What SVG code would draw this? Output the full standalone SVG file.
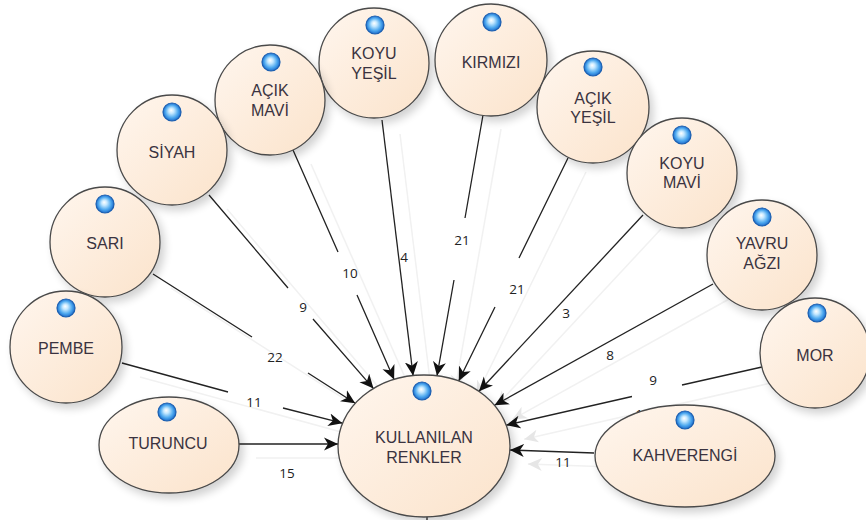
<svg xmlns="http://www.w3.org/2000/svg" width="866" height="520" viewBox="0 0 866 520">
<style>
.node{fill:url(#peach);stroke:#4a4a4a;stroke-width:1.3;filter:url(#sh)}
.dot{fill:url(#blue);stroke:#1b5fb0;stroke-width:1.2}
.lbl{font-family:"Liberation Sans",Arial,sans-serif;font-size:16px;fill:#3a3340;text-anchor:middle}
.num{font-family:"Open Sans","Liberation Sans",sans-serif;font-size:13.5px;fill:#222;text-anchor:middle}
.edge{fill:none;stroke:#222;stroke-width:1.3;marker-end:url(#arr)}
.edgesh{fill:none;stroke:#f1f1f1;stroke-width:1.5;marker-end:url(#arrsh)}
</style>
<defs>
<linearGradient id="peach" x1="0" y1="0" x2="1" y2="1">
<stop offset="0" stop-color="#fff6ee"/>
<stop offset="1" stop-color="#fbe3cb"/>
</linearGradient>
<radialGradient id="blue" cx="0.5" cy="0.5" r="0.5" fx="0.45" fy="0.4">
<stop offset="0" stop-color="#ffffff"/>
<stop offset="0.3" stop-color="#c4e8ff"/>
<stop offset="0.7" stop-color="#4ea9ef"/>
<stop offset="1" stop-color="#1d6ccc"/>
</radialGradient>
<filter id="sh" x="-20%" y="-20%" width="150%" height="150%">
<feGaussianBlur in="SourceAlpha" stdDeviation="4"/>
<feOffset dx="4" dy="5" result="b"/>
<feComponentTransfer><feFuncA type="linear" slope="0.18"/></feComponentTransfer>
<feMerge><feMergeNode/><feMergeNode in="SourceGraphic"/></feMerge>
</filter>
<marker id="arr" markerWidth="16" markerHeight="14" refX="14" refY="7" orient="auto" markerUnits="userSpaceOnUse">
<path d="M14,7 L0,0.5 L4,7 L0,13.5 Z" fill="#111"/>
</marker>
<marker id="arrsh" markerWidth="16" markerHeight="14" refX="14" refY="7" orient="auto" markerUnits="userSpaceOnUse">
<path d="M14,7 L0,0.5 L4,7 L0,13.5 Z" fill="#e6e6e6"/>
</marker>
</defs>
<rect width="866" height="520" fill="#fff"/>

<g id="connector-shadows" transform="translate(18,14)">
<path class="edgesh" d="M238,444 L338,444"/>
<path class="edgesh" d="M122,363 L342.5,423.2"/>
<path class="edgesh" d="M153,274 L355.2,403.3"/>
<path class="edgesh" d="M209,195 L373.5,388.6"/>
<path class="edgesh" d="M293,150 L394.1,379.5"/>
<path class="edgesh" d="M382,120 L413.1,375.7"/>
<path class="edgesh" d="M483,115 L437,375.8"/>
<path class="edgesh" d="M568,158 L458.7,381"/>
<path class="edgesh" d="M643,215 L479,391.3"/>
<path class="edgesh" d="M713,284 L494.5,405.3"/>
<path class="edgesh" d="M762,367 L506.2,425.2"/>
<path class="edgesh" d="M594,453 L509.9,450"/>
</g>

<g id="connectors">
<path class="edge" d="M238,444 L338,444"/>
<path class="edge" d="M122,363 L228,392 M283,408 L342.5,423.2"/>
<path class="edge" d="M153,274 L252,337 M308,373 L355.2,403.3"/>
<path class="edge" d="M209,195 L288,288 M313,319 L373.5,388.6"/>
<path class="edge" d="M293,150 L338,252 M357,295 L394.1,379.5"/>
<path class="edge" d="M382,120 L413.1,375.7"/>
<path class="edge" d="M483,115 L465,218 M454,280 L437,375.8"/>
<path class="edge" d="M568,158 L519,258 M495,307 L458.7,381"/>
<path class="edge" d="M643,215 L479,391.3"/>
<path class="edge" d="M713,284 L494.5,405.3"/>
<path class="edge" d="M762,367 L682,385 M632,396.5 L506.2,425.2"/>
<path class="edge" d="M594,453 L509.9,450"/>
<path fill="none" stroke="#222" stroke-width="1.3" d="M427,516 L427,520"/>
</g>

<g id="edge-labels">
<text class="num" x="404" y="262">4</text>
<text class="num" x="350" y="278">10</text>
<text class="num" x="303" y="312">9</text>
<text class="num" x="275" y="362">22</text>
<text class="num" x="254" y="407">11</text>
<text class="num" x="287" y="478">15</text>
<text class="num" x="462" y="245">21</text>
<text class="num" x="517" y="294">21</text>
<text class="num" x="566" y="318">3</text>
<text class="num" x="610" y="360">8</text>
<text class="num" x="653" y="385">9</text>
<text class="num" x="563" y="467">11</text>
<text class="num" x="643" y="419">11</text>
</g>

<g id="n-koyu-yesil"><circle class="node" cx="374" cy="63" r="55"/><circle class="dot" cx="375" cy="25" r="9"/><text class="lbl" x="374" y="59">KOYU</text><text class="lbl" x="374" y="79">YEŞİL</text></g>
<g id="n-acik-mavi"><circle class="node" cx="270" cy="100" r="55"/><circle class="dot" cx="271" cy="62" r="9"/><text class="lbl" x="270" y="96">AÇIK</text><text class="lbl" x="270" y="116">MAVİ</text></g>
<g id="n-siyah"><circle class="node" cx="172" cy="150" r="55"/><circle class="dot" cx="172" cy="112" r="9"/><text class="lbl" x="172" y="158">SİYAH</text></g>
<g id="n-sari"><circle class="node" cx="105" cy="242" r="55"/><circle class="dot" cx="105" cy="204" r="9"/><text class="lbl" x="105" y="249">SARI</text></g>
<g id="n-pembe"><circle class="node" cx="66" cy="347" r="56"/><circle class="dot" cx="66" cy="308" r="9"/><text class="lbl" x="66" y="354">PEMBE</text></g>
<g id="n-turuncu"><ellipse class="node" cx="169" cy="445" rx="70" ry="48"/><circle class="dot" cx="167" cy="412" r="9"/><text class="lbl" x="168" y="449">TURUNCU</text></g>
<g id="n-kirmizi"><circle class="node" cx="491" cy="60" r="56"/><circle class="dot" cx="492" cy="22" r="9"/><text class="lbl" x="491" y="68">KIRMIZI</text></g>
<g id="n-acik-yesil"><circle class="node" cx="593" cy="107" r="56"/><circle class="dot" cx="593" cy="67" r="9"/><text class="lbl" x="593" y="104">AÇIK</text><text class="lbl" x="593" y="123">YEŞİL</text></g>
<g id="n-koyu-mavi"><circle class="node" cx="682" cy="173" r="55"/><circle class="dot" cx="682" cy="135" r="9"/><text class="lbl" x="682" y="169">KOYU</text><text class="lbl" x="682" y="188">MAVİ</text></g>
<g id="n-yavru-agzi"><circle class="node" cx="762" cy="255" r="55"/><circle class="dot" cx="762" cy="217" r="9"/><text class="lbl" x="762" y="249">YAVRU</text><text class="lbl" x="762" y="269">AĞZI</text></g>
<g id="n-mor"><circle class="node" cx="815" cy="353" r="55"/><circle class="dot" cx="817" cy="313" r="9"/><text class="lbl" x="815" y="361">MOR</text></g>
<g id="n-kahverengi"><ellipse class="node" cx="685" cy="456" rx="90" ry="51"/><circle class="dot" cx="685" cy="420" r="9"/><text class="lbl" x="685" y="461">KAHVERENGİ</text></g>
<g id="n-kullanilan"><ellipse class="node" cx="424" cy="446" rx="86" ry="71"/><circle class="dot" cx="422" cy="391" r="9"/><text class="lbl" x="424" y="443">KULLANILAN</text><text class="lbl" x="424" y="463">RENKLER</text></g>
</svg>
